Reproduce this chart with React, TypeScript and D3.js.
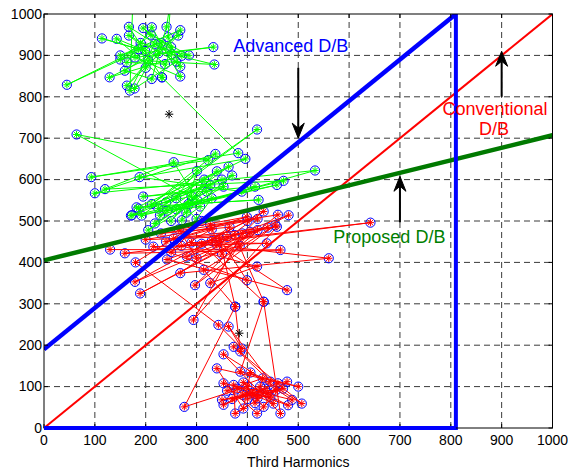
import React from "react";
import * as d3 from "d3";

// ---------------- data ----------------
const xTicks = [0, 100, 200, 300, 400, 500, 600, 700, 800, 900, 1000];
const yTicks = [0, 100, 200, 300, 400, 500, 600, 700, 800, 900, 1000];
const xLabel = "Third Harmonics";

// green class (sequence order), top cluster then lower cluster
const greenTop: [number, number][] = [
  [175, 1045], [169, 815], [218, 928], [45, 829], [186, 915], [114, 941], [199, 911], [143, 940],
  [232, 847], [167, 969], [251, 903], [335, 878], [205, 887], [163, 827], [264, 948], [159, 863],
  [212, 843], [241, 969], [250, 1040], [244, 944], [268, 873], [195, 966], [271, 899], [129, 847],
  [225, 905], [333, 920], [179, 895], [268, 849], [212, 968], [163, 883], [238, 879], [167, 948],
  [260, 885], [178, 820], [230, 930], [150, 900], [268, 961], [200, 870], [190, 930], [285, 900],
  [210, 950], [150, 890], [250, 920], [232, 847],
];
const greenLow: [number, number][] = [
  [382, 664], [93, 606], [323, 647], [64, 709], [301, 551], [255, 642], [120, 577], [471, 597],
  [192, 513], [419, 721], [212, 541], [337, 662], [100, 567], [533, 622], [261, 528], [389, 571],
  [188, 606], [396, 650], [171, 513], [458, 587], [242, 525], [363, 631], [182, 533], [422, 551],
  [284, 541], [327, 587], [205, 478], [353, 583], [195, 559], [415, 583], [228, 514], [320, 571],
  [218, 494], [301, 621], [271, 502], [307, 535], [173, 514], [350, 600], [186, 530], [290, 560],
  [250, 500], [340, 620], [240, 545], [370, 610], [280, 520], [315, 600], [225, 530], [330, 555],
  [300, 505], [260, 555],
];

// red class (sequence order), upper cluster then lower cluster
const redUpper: [number, number][] = [
  [130, 431], [465, 430], [159, 422], [642, 496], [330, 452], [478, 333], [242, 407], [481, 514],
  [189, 325], [420, 478], [179, 353], [432, 523], [268, 374], [560, 410], [290, 448], [438, 446],
  [215, 438], [399, 357], [345, 458], [376, 293], [314, 382], [455, 490], [297, 345], [405, 474],
  [327, 350], [419, 390], [270, 440], [458, 486], [294, 261], [390, 470], [255, 458], [440, 484],
  [360, 462], [200, 455], [400, 500], [310, 445], [432, 305], [375, 466], [340, 442], [281, 414],
  [365, 485], [230, 470], [420, 505], [350, 420], [327, 490], [460, 515], [385, 440], [300, 410],
  [265, 480], [399, 510], [240, 450], [330, 480], [250, 425], [310, 500], [180, 400],
];
const redLower: [number, number][] = [
  [343, 249], [389, 192], [363, 245], [445, 112], [373, 196], [507, 59], [353, 178], [465, 35],
  [432, 305], [386, 136], [500, 100], [340, 144], [392, 47], [406, 134], [488, 68], [353, 108],
  [419, 35], [478, 112], [376, 35], [373, 104], [451, 59], [425, 100], [353, 56], [460, 108],
  [432, 51], [392, 110], [480, 55], [410, 85], [350, 68], [440, 85], [370, 70], [435, 95],
  [400, 70], [455, 90], [380, 95], [420, 72], [470, 95], [390, 80], [445, 75], [360, 90],
  [430, 120], [415, 60], [400, 100], [276, 51], [376, 293], [386, 185],
];

const clusterCentres: [number, number][] = [[246, 758], [384, 229]];

// decision boundaries
const conventionalDB: [number, number][] = [[0, 0], [1000, 1000]];
const proposedDB: [number, number][] = [[0, 405], [1000, 707]];
const advancedDiag: [number, number][] = [[0, 190], [810, 1000]];
const advancedLimit: [number, number][] = [[0, 0], [810, 0], [810, 1000]];

// annotation arrows: [x, tailY, tipY]
const arrows: [number, number, number][] = [[500, 870, 700], [900, 800, 910], [700, 497, 608]];

// ---------------- layout ----------------
const W = 568;
const H = 470;
const L = 44;
const R = 552.5;
const T = 14;
const B = 428;
const FONT = "'Liberation Sans', Arial, Helvetica, sans-serif";

const x = d3.scaleLinear().domain([0, 1000]).range([L, R]);
const y = d3.scaleLinear().domain([0, 1000]).range([B, T]);
const line = d3.line<[number, number]>().x((d) => x(d[0])).y((d) => y(d[1]));

function starPath(pts: [number, number][], s: number) {
  const k = s * 0.72;
  return pts
    .map(([a, b]) => {
      const cx = x(a);
      const cy = y(b);
      return `M${cx - s},${cy}H${cx + s}M${cx},${cy - s}V${cy + s}M${cx - k},${cy - k}L${cx + k},${cy + k}M${cx - k},${cy + k}L${cx + k},${cy - k}`;
    })
    .join("");
}

function Series({ pts, color }: { pts: [number, number][]; color: string }) {
  return (
    <g>
      {pts.map((p, i) => (
        <circle key={i} cx={x(p[0])} cy={y(p[1])} r={4.6} fill="none" stroke="#0000ff" strokeWidth={1} />
      ))}
      <path d={line(pts) || ""} fill="none" stroke={color} strokeWidth={1} />
      <path d={starPath(pts, 3.6)} fill="none" stroke={color} strokeWidth={1} />
    </g>
  );
}

function Arrow({ ax, y0, y1 }: { ax: number; y0: number; y1: number }) {
  const px = x(ax);
  const tail = y(y0);
  const tip = y(y1);
  const dir = tip > tail ? 1 : -1;
  const len = 15;
  const hw = 6;
  const notch = 10;
  const head = `M${px},${tip}L${px - hw},${tip - dir * len}L${px},${tip - dir * notch}L${px + hw},${tip - dir * len}Z`;
  return (
    <g>
      <line x1={px} x2={px} y1={tail} y2={tip - dir * notch} stroke="#000" strokeWidth={2} />
      <path d={head} fill="#000" stroke="#000" strokeWidth={1} strokeLinejoin="miter" />
    </g>
  );
}

export default function App() {
  const green = [...greenTop, ...greenLow];
  const red = [...redUpper, ...redLower];
  return (
    <svg
      width={W}
      height={H}
      viewBox={`0 0 ${W} ${H}`}
      style={{ position: "absolute", left: 0, top: 0, background: "#fff" }}
      fontFamily={FONT}
    >
      <defs>
        <clipPath id="plot">
          <rect x={L} y={T} width={R - L} height={B - T} />
        </clipPath>
      </defs>
      <rect x={0} y={0} width={W} height={H} fill="#fff" />

      {/* grid */}
      <g stroke="#3a3a3a" strokeWidth={1} strokeDasharray="6,4">
        {xTicks.slice(1, -1).map((t) => (
          <line key={"gx" + t} x1={x(t)} x2={x(t)} y1={B} y2={T} />
        ))}
        {yTicks.slice(1, -1).map((t) => (
          <line key={"gy" + t} x1={L} x2={R} y1={y(t)} y2={y(t)} />
        ))}
      </g>

      <g clipPath="url(#plot)">
        <Series pts={green} color="#00ff00" />
        <Series pts={red} color="#ff0000" />
      </g>

      {/* cluster centres */}
      <path d={starPath(clusterCentres, 4.2)} stroke="#000" strokeWidth={1} fill="none" />

      {/* decision boundaries */}
      <g clipPath="url(#plot)">
        <path d={line(conventionalDB) || ""} stroke="#ff0000" strokeWidth={2} fill="none" />
      </g>
      <path d={line(proposedDB) || ""} stroke="#007a00" strokeWidth={4.5} fill="none" />
      <g clipPath="url(#plot)">
        <path d={line(advancedDiag) || ""} stroke="#0000ff" strokeWidth={4.5} fill="none" />
      </g>
      <path d={line(advancedLimit) || ""} stroke="#0000ff" strokeWidth={4} fill="none" />

      {/* axes box and ticks */}
      <rect x={L} y={T} width={R - L} height={B - T} fill="none" stroke="#000" strokeWidth={1} />
      <g stroke="#000" strokeWidth={1}>
        {xTicks.map((t) => (
          <g key={"tx" + t}>
            <line x1={x(t)} x2={x(t)} y1={B} y2={B - 4} />
            <line x1={x(t)} x2={x(t)} y1={T} y2={T + 4} />
          </g>
        ))}
        {yTicks.map((t) => (
          <g key={"ty" + t}>
            <line x1={L} x2={L + 4} y1={y(t)} y2={y(t)} />
            <line x1={R} x2={R - 4} y1={y(t)} y2={y(t)} />
          </g>
        ))}
      </g>
      <path d={line(advancedLimit.slice(0, 2)) || ""} stroke="#0000ff" strokeWidth={4} fill="none" />

      {/* tick labels */}
      <g fontSize={14} fill="#000">
        {xTicks.map((t) => (
          <text key={"lx" + t} x={x(t)} y={B + 17} textAnchor="middle">
            {t}
          </text>
        ))}
        {yTicks.map((t) => (
          <text key={"ly" + t} x={L - 2} y={y(t)} dy="0.34em" textAnchor="end">
            {t}
          </text>
        ))}
      </g>
      <text x={(L + R) / 2} y={467} fontSize={14} textAnchor="middle" fill="#000">
        {xLabel}
      </text>

      {/* arrows */}
      {arrows.map(([ax, y0, y1], i) => (
        <Arrow key={i} ax={ax} y0={y0} y1={y1} />
      ))}

      {/* annotations */}
      <text x={x(372)} y={y(908)} fontSize={18} fill="#0000ff">
        Advanced D/B
      </text>
      <text x={x(887)} y={y(757)} fontSize={18} fill="#ff0000" textAnchor="middle">
        Conventional
      </text>
      <text x={x(885)} y={y(707)} fontSize={18} fill="#ff0000" textAnchor="middle">
        D/B
      </text>
      <text x={x(569)} y={y(447)} fontSize={18} fill="#008000">
        Proposed D/B
      </text>
    </svg>
  );
}
